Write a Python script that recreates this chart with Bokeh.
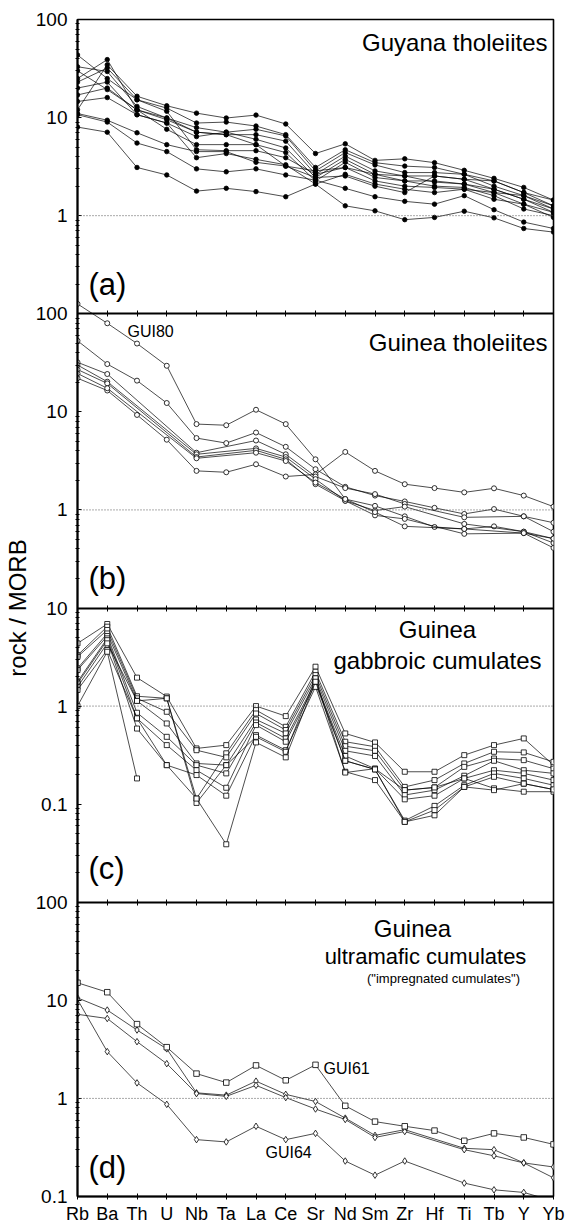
from bokeh.plotting import figure
from bokeh.models import (Range1d, LogScale, LogAxis, LinearAxis, FixedTicker,
                          CustomJSTickFormatter, Span, Label)
from bokeh.embed import file_html
from bokeh.resources import INLINE

# ---------------- data ----------------
elements = ["Rb", "Ba", "Th", "U", "Nb", "Ta", "La", "Ce", "Sr", "Nd", "Sm",
            "Zr", "Hf", "Ti", "Tb", "Y", "Yb"]

# (a) Guyana tholeiites
guyana_tholeiites = [
    [12.0, 34.5, 16.5, 13.2, 11.1, 9.9, 10.6, 8.6, 4.3, 5.4, 3.66, 3.8, 3.47, 2.9, 2.4, 1.94, 1.44],
    [43.5, 25.0, 15.2, 12.5, 8.8, 9.0, 8.2, 6.7, 3.1, 4.7, 3.47, 3.2, 3.1, 2.64, 2.26, 1.72, 1.26],
    [33.0, 29.5, 13.0, 9.9, 7.9, 7.1, 7.6, 6.5, 2.86, 4.4, 3.29, 2.75, 2.75, 2.64, 2.0, 1.6, 1.26],
    [25.0, 39.0, 12.0, 9.5, 7.1, 6.7, 6.7, 5.75, 2.64, 4.05, 2.86, 2.54, 2.54, 2.35, 1.86, 1.47, 1.17],
    [20.0, 23.0, 10.7, 8.8, 6.4, 7.1, 6.0, 4.9, 2.45, 3.75, 2.64, 2.54, 2.2, 2.1, 1.72, 1.31, 1.08],
    [17.0, 20.0, 12.0, 7.6, 5.3, 5.3, 5.3, 4.4, 2.26, 3.5, 2.45, 2.26, 2.0, 1.94, 1.6, 1.17, 1.0],
    [23.0, 32.0, 15.2, 11.6, 4.7, 4.6, 4.6, 3.9, 2.64, 3.1, 2.26, 2.0, 1.94, 1.86, 1.72, 1.6, 1.17],
    [14.6, 16.0, 10.7, 8.8, 3.9, 4.3, 3.75, 3.3, 2.1, 2.64, 2.1, 1.86, 1.72, 1.86, 1.47, 1.31, 0.96],
    [30.0, 19.3, 12.0, 9.9, 7.1, 6.7, 5.3, 3.2, 2.45, 2.54, 2.0, 1.72, 2.54, 2.35, 2.26, 1.72, 1.44],
    [11.0, 9.4, 7.0, 5.3, 4.5, 4.5, 3.5, 3.2, 2.86, 3.1, 2.64, 2.26, 2.26, 2.1, 1.86, 1.47, 1.08],
    [10.7, 9.0, 5.5, 4.5, 3.0, 2.8, 3.0, 2.6, 2.3, 1.9, 1.56, 1.4, 1.31, 1.6, 1.15, 0.86, 0.74],
    [8.0, 7.1, 3.1, 2.6, 1.78, 1.9, 1.76, 1.56, 2.1, 1.26, 1.12, 0.91, 0.96, 1.11, 0.95, 0.74, 0.68],
]

# (b) Guinea tholeiites (first row = GUI80)
guinea_tholeiites = [
    [126, 80, 49.7, 29.5, 7.5, 7.3, 10.5, 7.5, 3.28, 1.29, 1.1, 0.86, 0.67, 0.64, 0.68, 0.60, 0.51],
    [53, 30.7, 20.8, 12.3, 5.4, 4.8, 6.15, 4.4, 2.6, 1.72, 1.40, 1.22, 1.05, 0.91, 1.02, 0.86, 0.74],
    [22, 16.5, 9.3, 5.2, 2.5, 2.42, 2.92, 2.19, 2.3, 3.9, 2.5, 1.83, 1.67, 1.51, 1.66, 1.40, 1.08],
    [32, 24.3, None, None, 3.83, None, 5.1, 3.69, 2.19, 1.67, 1.45, 1.15, None, 0.84, None, 0.86, 0.60],
    [30, 20.3, None, None, 3.69, None, 4.24, 3.46, 2.06, 1.24, 0.985, 1.08, None, 0.72, None, 0.60, 0.46],
    [27, 19.5, None, None, 3.46, None, 4.05, 3.28, 1.83, 1.24, 0.88, 0.81, None, 0.57, None, 0.58, 0.41],
    [24.6, 17.4, None, None, 3.36, None, 3.83, 3.15, 1.9, 1.29, 0.95, 0.68, None, 0.64, None, 0.58, 0.51],
]

# (c) Guinea gabbroic cumulates
gabbroic_cumulates = [
    [4.36, 6.87, 1.95, 1.25, 0.37, 0.40, 1.0, 0.79, 2.52, 0.526, 0.426, 0.214, 0.214, 0.316, 0.40, 0.468, 0.25],
    [3.3, 6.45, 1.26, 1.2, 0.114, 0.33, 0.91, 0.615, 2.24, 0.433, 0.385, 0.15, 0.176, 0.26, 0.342, 0.337, 0.27],
    [3.18, 5.97, 1.2, 0.875, 0.355, 0.30, 0.84, 0.57, 2.07, 0.39, 0.35, 0.139, 0.148, 0.24, 0.292, 0.281, 0.23],
    [2.42, 5.5, 1.13, 0.665, 0.26, 0.25, 0.73, 0.526, 1.92, 0.35, 0.31, 0.124, 0.139, 0.195, 0.277, 0.222, 0.206],
    [2.33, 5.18, 0.855, 0.486, 0.25, 0.206, 0.68, 0.468, 1.77, 0.31, 0.23, 0.112, 0.122, 0.183, 0.222, 0.206, 0.176],
    [1.77, 4.9, 0.75, 0.40, 0.222, 0.147, 0.64, 0.433, 1.68, 0.277, 0.226, 0.068, 0.096, 0.156, 0.206, 0.183, 0.156],
    [1.70, 4.7, 0.59, 0.25, 0.198, 0.122, 0.506, 0.355, 1.57, 0.214, 0.176, 0.066, 0.087, 0.15, 0.19, 0.162, 0.141],
    [1.57, 4.36, 1.13, 1.2, 0.103, 0.25, 0.486, 0.342, 1.92, 0.21, 0.23, 0.139, 0.148, 0.183, 0.145, 0.134, 0.134],
    [1.46, 3.73, 0.75, 0.25, 0.114, 0.039, 0.426, 0.30, 1.77, 0.277, 0.226, 0.066, 0.077, 0.15, 0.139, 0.162, 0.141],
    [1.0, 3.58, 0.183, None, None, None, None, None, None, None, None, None, None, None, None, None, None],
]

# (d) Guinea ultramafic cumulates
ultramafic_gui61 = [15.1, 12.1, 5.72, 3.33, 1.79, 1.45, 2.17, 1.53, 2.2, 0.84, 0.58, 0.52, 0.47, 0.37, 0.44, 0.40, 0.34]
ultramafic_others = [
    [10.6, 7.96, 4.98, 3.2, 1.14, 1.08, 1.5, 1.1, 0.93, 0.63, 0.42, 0.48, None, 0.31, 0.30, 0.22, 0.155],
    [7.2, 6.53, 3.79, 2.26, 1.12, 1.05, 1.36, 1.02, 0.78, 0.61, 0.40, 0.46, None, 0.30, 0.26, 0.22, 0.20],
    [10.2, 3.0, 1.44, 0.87, 0.38, 0.36, 0.52, 0.38, 0.44, 0.23, 0.165, 0.23, None, 0.137, 0.117, 0.11, 0.09],
]

# labelled y ticks of each panel (panel values)
panel_ticks = {"a": [1, 10, 100], "b": [1, 10, 100], "c": [0.1, 1, 10], "default": [0.1, 1, 10, 100]}
panel_decades = {"a": [0.1, 1, 10], "b": [0.1, 1, 10], "c": [0.01, 0.1, 1], "default": [0.1, 1, 10]}

# ---------------- layout ----------------
FONT = "Liberation Sans"
W, H = 565, 1226
LEFT, RIGHT, TOP, BOTTOM = 77, 12, 19, 25
FW, FH = W - LEFT - RIGHT, H - TOP - BOTTOM
DEC = FH / 12.0
TOPLOG = {"a": 2, "b": 5, "c": 7, "default": 11}
# factor converting a panel value into the shared (default) log coordinate
SHIFT = {k: 10.0 ** (11 - v) for k, v in TOPLOG.items()}


def xd(px):
    return (px - LEFT) / (FW / 16.0)


def yd(rn, px):
    return 10 ** (TOPLOG[rn] - (px - TOP) / DEC)


p = figure(width=W, height=H, output_backend="svg", toolbar_location=None,
           x_range=Range1d(0, 16), y_range=Range1d(0.1, 1e11), y_axis_type="log",
           y_axis_location=None, min_border_left=LEFT, min_border_right=RIGHT,
           min_border_top=TOP, min_border_bottom=BOTTOM)
p.extra_y_ranges = {"a": Range1d(1e-10, 100), "b": Range1d(1e-7, 1e5), "c": Range1d(1e-5, 1e7)}
p.extra_y_scales = {"a": LogScale(), "b": LogScale(), "c": LogScale()}
p.grid.visible = False
p.outline_line_color = "black"
p.outline_line_width = 1.6
p.background_fill_color = "white"
p.border_fill_color = "white"

# bottom category axis
xa = p.xaxis[0]
xa.ticker = FixedTicker(ticks=list(range(len(elements))), minor_ticks=[])
xa.formatter = CustomJSTickFormatter(args=dict(names=elements),
                                     code="return names[Math.round(tick)] || ''")
xa.major_label_text_font = FONT
xa.major_label_text_font_size = "18px"
xa.major_label_text_color = "black"
xa.major_label_standoff = 4
xa.major_tick_in = 3
xa.major_tick_out = 3
xa.axis_line_width = 2
xa.axis_line_color = "black"
xa.major_tick_line_color = "black"

# boundary axes between panels
for rn, loc in [("a", 0.1), ("b", 0.1), ("c", 0.01)]:
    bx = LinearAxis(y_range_name=rn, fixed_location=loc,
                    ticker=FixedTicker(ticks=list(range(len(elements))), minor_ticks=[]),
                    major_label_text_color=None, major_tick_in=3, major_tick_out=3,
                    axis_line_width=2, axis_line_color="black",
                    major_tick_line_color="black")
    p.add_layout(bx, "below")

# one shared left log axis carrying the labels of all four panels
tick_vals, tick_texts, minor_vals = [], [], []
for rn in ["a", "b", "c", "default"]:
    for t in panel_ticks[rn]:
        tick_vals.append(t * SHIFT[rn])
        tick_texts.append(("%g" % t))
    for d in panel_decades[rn]:
        for m in range(2, 10):
            minor_vals.append(m * d * SHIFT[rn])

ya = LogAxis(ticker=FixedTicker(ticks=tick_vals, minor_ticks=minor_vals),
             formatter=CustomJSTickFormatter(
                 args=dict(vals=tick_vals, texts=tick_texts),
                 code="""let best = 0, bd = 1e9;
for (let i = 0; i < vals.length; i++) {
  const d = Math.abs(Math.log10(vals[i]) - Math.log10(tick));
  if (d < bd) { bd = d; best = i }
}
return texts[best];"""),
             axis_label="rock / MORB", axis_label_text_font=FONT,
             axis_label_text_font_size="24px", axis_label_text_font_style="normal",
             axis_label_text_color="black", axis_label_standoff=2,
             major_label_text_font=FONT, major_label_text_font_size="19px",
             major_label_text_color="black", major_label_standoff=8,
             major_tick_in=4, major_tick_out=0, minor_tick_in=2, minor_tick_out=2,
             axis_line_width=2, axis_line_color="black",
             major_tick_line_color="black", minor_tick_line_color="black")
p.add_layout(ya, "left")

for rn in ["a", "b", "c", "default"]:
    p.add_layout(Span(location=1, dimension="width", y_range_name=rn,
                      line_color="#555555", line_dash="1 2", line_width=1))


def draw(series_list, rn, marker, size, fill):
    for s in series_list:
        xs = [i for i, v in enumerate(s) if v is not None]
        ys = [v for v in s if v is not None]
        p.line(xs, ys, y_range_name=rn, line_color="black", line_width=0.7)
        p.scatter(xs, ys, y_range_name=rn, marker=marker, size=size,
                  line_color="black", fill_color=fill, line_width=0.8)


draw(guyana_tholeiites, "a", "circle", 4.5, "black")
draw(guinea_tholeiites, "b", "circle", 5, "white")
draw(gabbroic_cumulates, "c", "square", 5, "white")
draw(ultramafic_others, "default", "diamond", 6.5, "white")
draw([ultramafic_gui61], "default", "square", 5.5, "white")


def label(text, px, py, rn, size, align="left"):
    p.add_layout(Label(x=xd(px), y=yd(rn, py), y_range_name=rn, text=text,
                       text_font=FONT, text_font_size=size, text_color="black",
                       text_align=align, text_baseline="middle"))


label("Guyana tholeiites", 547, 42, "a", "24px", "right")
label("Guinea tholeiites", 547, 343, "b", "24px", "right")
label("Guinea", 437, 632, "c", "24px", "center")
label("gabbroic cumulates", 437, 663, "c", "24px", "center")
label("Guinea", 412, 932, "default", "24px", "center")
label("ultramafic cumulates", 425, 960, "default", "22px", "center")
label('("impregnated cumulates")', 443, 982, "default", "13px", "center")
label("GUI80", 127, 332, "b", "16px")
label("GUI61", 323, 1072, "default", "16px")
label("GUI64", 265, 1157, "default", "16px")
label("(a)", 88, 285, "a", "31px")
label("(b)", 88, 580, "b", "31px")
label("(c)", 88, 872, "c", "31px")
label("(d)", 88, 1172, "default", "31px")

open("out.html", "w").write(file_html(p, INLINE))
